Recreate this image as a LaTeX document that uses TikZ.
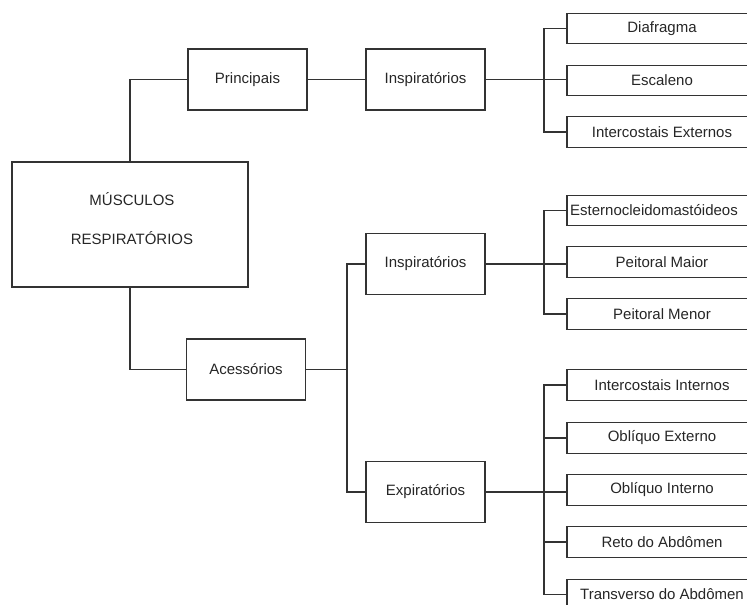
\documentclass[tikz,border=0pt]{standalone}
\usepackage{fontspec}
\setmainfont{Liberation Sans}
\begin{document}
\begin{tikzpicture}[x=1pt,y=-1pt,
  every node/.style={font=\fontsize{15}{18}\selectfont, text=black!85},
  mbox/.style={draw=black!80, line width=1.2pt, minimum width=119pt, minimum height=61pt, inner sep=0pt},
  leaf/.style={draw=black!80, line width=1.2pt, minimum width=190pt, minimum height=30.5pt, inner sep=0pt},
  conn/.style={draw=black!80, line width=1.2pt}]
\useasboundingbox (0,0) rectangle (747,605);
\clip (0,0) rectangle (747,605);
% main box
\node[draw=black!80, line width=1.2pt, minimum width=236pt, minimum height=125pt, inner sep=0pt] (main) at (130,224.5) {};
\node[align=center, font=\fontsize{15}{39}\selectfont] (mainlabel) at (132,218.5) {MÚSCULOS\\RESPIRATÓRIOS};
% level 1
\node[mbox] (princ) at (247.5,79.5) {Principais};
\node[mbox] (acess) at (246,369.5) {Acessórios};
% level 2
\node[mbox] (insp1) at (425.5,79.5) {Inspiratórios};
\node[mbox] (insp2) at (425.5,264) {Inspiratórios};
\node[mbox] (exp) at (425.5,492) {Expiratórios};
% leaves
\node[leaf] (diaf) at (662,28.5) {Diafragma};
\node[leaf] (esc) at (662,80.5) {Escaleno};
\node[leaf] (iext) at (662,132) {Intercostais Externos};
\node[leaf] (est) at (662,210.5) {};
\node[anchor=west, inner sep=0pt] (esttext) at (570,210.5) {Esternocleidomastóideos};
\node[leaf] (pmai) at (662,262) {Peitoral Maior};
\node[leaf] (pmen) at (662,314) {Peitoral Menor};
\node[leaf] (iint) at (662,385) {Intercostais Internos};
\node[leaf] (oext) at (662,438) {Oblíquo Externo};
\node[leaf] (oint) at (662,490) {Oblíquo Interno};
\node[leaf] (reto) at (662,542) {Reto do Abdômen};
\node[leaf] (trans) at (662,594.5) {Transverso do Abdômen};
% bracket coordinates
\coordinate (b0) at (347,0);
\coordinate (b1) at (544,0);
% connectors
\draw[conn] (main.north) |- (princ.west);
\draw[conn] (main.south) |- (acess.west);
\draw[conn] (princ.east) -- (insp1.west);
\draw[conn] (insp1.east) -- (insp1.east -| esc.west);
\draw[conn] (diaf.west) -- (diaf.west -| b1) -- (iext.west -| b1) -- (iext.west);
\draw[conn] (acess.east) -- (acess.east -| b0);
\draw[conn] (insp2.west) -- (insp2.west -| b0) -- (exp.west -| b0) -- (exp.west);
\draw[conn] (insp2.east) -- (insp2.east -| pmai.west);
\draw[conn] (est.west) -- (est.west -| b1) -- (pmen.west -| b1) -- (pmen.west);
\draw[conn] (exp.east) -- (exp.east -| oint.west);
\draw[conn] (iint.west) -- (iint.west -| b1) -- (trans.west -| b1) -- (trans.west);
\draw[conn] (oext.west -| b1) -- (oext.west);
\draw[conn] (reto.west -| b1) -- (reto.west);
\end{tikzpicture}
\end{document}
